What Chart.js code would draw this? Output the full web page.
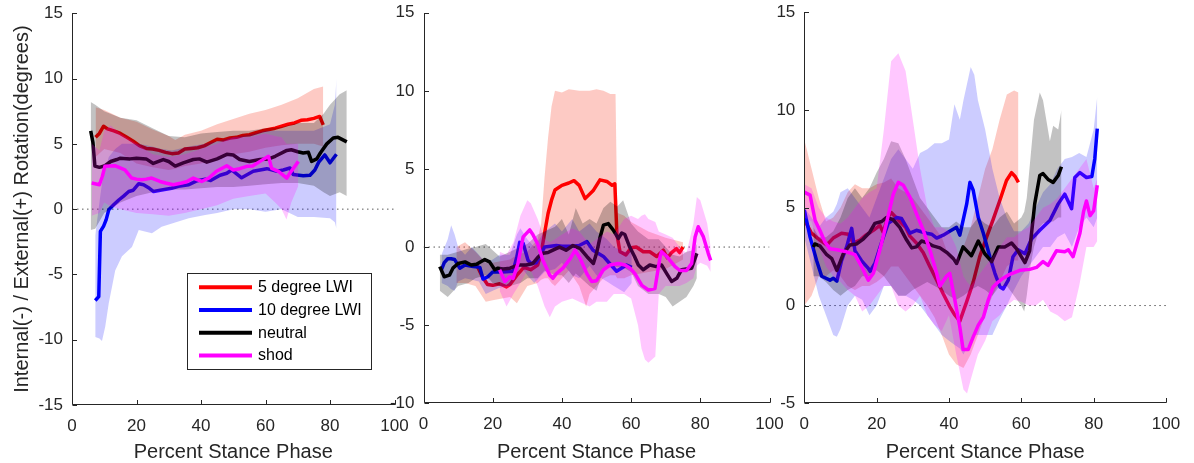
<!DOCTYPE html>
<html>
<head>
<meta charset="utf-8">
<script src="https://cdn.jsdelivr.net/npm/chart.js@4.4.1/dist/chart.umd.min.js"></script>
<style>
  html, body { margin: 0; padding: 0; background: #ffffff; }
  #wrap { position: relative; width: 1194px; height: 463px; overflow: hidden; background: #ffffff; }
  #wrap canvas { position: absolute; left: 0; top: 0; }
</style>
</head>
<body>
<div id="wrap">
  <canvas id="panel1" width="1194" height="463"></canvas>
  <canvas id="panel2" width="1194" height="463"></canvas>
  <canvas id="panel3" width="1194" height="463"></canvas>
</div>
<script>
// ---- conditions ----
const conditionNames = ['5 degree LWI', '10 degree LWI', 'neutral', 'shod'];

// ---- tick values ----
const xTicks  = [0, 20, 40, 60, 80, 100];
const y1Ticks = [-15, -10, -5, 0, 5, 10, 15];
const y2Ticks = [-10, -5, 0, 5, 10, 15];
const y3Ticks = [-5, 0, 5, 10, 15];

// ---- panel 1: mean curves [percent stance, degrees] ----
const p1RedMean = [[7.3,5.5],[8.5,5.8],[9.8,6.35],[11,6.15],[13,6.0],[15,5.8],[17,5.5],[19,5.2],[21,4.85],[23,4.65],[25,4.6],[27,4.5],[29,4.35],[31,4.25],[33,4.3],[35,4.6],[37,4.65],[39,4.7],[41,4.85],[43,5.1],[45,5.35],[47,5.3],[49,5.45],[51,5.5],[53,5.65],[55,5.7],[57,5.85],[59,6.0],[61,6.1],[63,6.2],[65,6.35],[67,6.5],[69,6.6],[71,6.8],[73,6.85],[75,6.95],[76.8,7.1],[77.9,6.45]];
const p1BlueMean = [[7.2,-7.0],[8.3,-6.7],[8.8,-1.7],[9.8,-1.3],[10.6,-0.8],[11.4,-0.05],[13,0.35],[14.5,0.7],[16,1.0],[17.6,1.35],[19,1.45],[20.7,1.95],[22.2,1.87],[24,1.6],[25.3,1.35],[27.8,1.47],[30.9,1.6],[33,1.75],[36.2,1.87],[38.5,2.15],[41.3,2.3],[43,2.2],[45.9,2.6],[48,2.75],[49.5,3.0],[52.6,2.4],[56.2,2.9],[58.3,3.0],[60.4,3.1],[63.6,2.9],[65.5,3.0],[67.6,3.15],[68.6,2.65],[71.7,2.56],[73.8,2.6],[75.3,3.0],[76.5,3.6],[78.4,4.15],[80,3.55],[82,4.2]];
const p1BlackMean = [[5.8,6.0],[6.5,5.1],[7.1,3.3],[8.5,3.2],[10,3.3],[12,3.65],[13.9,3.8],[15,3.9],[18,3.85],[20,3.9],[23,3.85],[25.2,3.5],[28.3,3.8],[30,3.65],[32,3.3],[34.5,3.55],[37.6,3.8],[39.5,3.85],[41.8,3.6],[45,3.85],[48,4.2],[50,4.15],[52,3.8],[55,3.65],[58.3,3.8],[61,3.85],[63,4.05],[66.6,4.5],[68,4.55],[70,4.4],[71.7,4.3],[73.3,4.35],[74.3,3.66],[75.9,3.85],[77,4.3],[79,5.0],[81,5.45],[82.5,5.5],[85.2,5.15]];
const p1ShodMean = [[6.1,2.0],[8.5,1.87],[9.4,2.5],[10.2,3.28],[13.3,3.33],[16.4,3.0],[18.5,2.38],[20,2.3],[21.6,2.25],[23,2.3],[24.7,2.38],[27.3,2.12],[29,2.0],[31.4,1.87],[34,2.0],[35.5,2.1],[37.6,2.38],[40.2,2.12],[42.5,2.4],[44.8,2.9],[48,3.33],[50,3.0],[52,3.1],[54.2,3.28],[56,3.3],[58.3,3.66],[60.9,4.05],[61.9,3.13],[64,2.9],[66.6,2.38],[67.6,2.77],[70.2,3.66]];

// ---- panel 1: spread bands [percent stance, lower, upper] ----
const p1RedBand = [[7.3,4.0,7.8],[10,4.6,7.6],[15,4.3,7.0],[20,3.5,6.7],[25,3.2,6.1],[30,3.0,5.6],[32,3.1,5.3],[35,3.3,5.7],[40,3.5,6.0],[45,3.9,6.5],[50,4.2,6.9],[55,4.4,7.3],[60,4.7,7.6],[65,4.9,8.0],[70,5.0,8.5],[75,5.0,9.2],[77.9,4.8,9.4]];
const p1BlueBand = [[7.2,-9.8,-2.0],[8.5,-9.9,0.5],[9.3,-10.1,2.0],[10.3,-9.0,3.0],[11.4,-7.2,4.0],[13.4,-4.7,4.6],[15.5,-3.6,5.0],[18.6,-2.9,5.0],[20.7,-1.6,5.0],[24.8,-1.85,4.8],[27.8,-1.35,4.6],[31,-1.1,4.5],[36.2,-0.7,4.8],[41.3,-0.45,5.0],[45,-0.3,5.2],[50,0.0,5.5],[55,0.0,5.7],[60,-0.2,6.0],[65,0.0,6.0],[70,-0.6,6.0],[75,-0.6,6.0],[80,-0.7,6.5],[81.5,-1.0,8.0],[82,-1.5,10.0]];
const p1BlackBand = [[5.8,-1.6,8.2],[7.2,-1.5,8.0],[10,-0.3,7.5],[15,0.5,7.0],[20,1.0,6.8],[25,1.3,6.2],[30,1.5,5.6],[35,1.5,5.5],[40,1.6,5.8],[45,1.7,5.9],[50,1.7,6.0],[55,1.8,6.0],[60,1.9,6.2],[65,2.0,6.3],[70,2.0,6.6],[75,1.8,6.6],[78,1.3,7.3],[80,1.0,8.0],[83,1.3,8.8],[85.2,1.0,9.1]];
const p1ShodBand = [[6.1,-0.5,5.0],[8.5,-0.3,4.5],[10,0.5,6.0],[12,0.2,6.4],[15,0.0,5.8],[20,-0.3,5.0],[25,-0.4,4.2],[30,-0.5,4.0],[35,-0.3,4.2],[40,0.0,4.6],[45,0.3,5.0],[50,0.8,5.5],[55,1.0,5.5],[60,1.2,5.8],[63,0.5,5.6],[65,0.0,5.5],[66.5,-0.8,5.0],[68,0.5,5.0],[70.2,1.8,5.0]];

// ---- panel 2: mean curves ----
const p2RedMean = [[14,-1.2],[15.5,-1.2],[17,-1.9],[18.5,-2.4],[20,-2.45],[22,-2.35],[24,-2.55],[25,-2.4],[27,-1.8],[29,-1.3],[31,-1.45],[33,-1.15],[34,-0.4],[35,0.9],[36,2.15],[37,3.0],[38,3.65],[40,3.95],[42,4.1],[43.5,4.25],[45,3.95],[46.7,3.1],[49,3.6],[51,4.3],[53,4.2],[54.5,3.95],[55.3,4.05],[55.9,0.8],[56.8,-0.3],[58.5,-0.5],[60,-0.05],[61.5,0.0],[63.5,-0.3],[65.4,-0.3],[67.4,-0.6],[69.3,-0.2],[70.5,-0.7],[71.7,-0.35],[73.1,-0.1],[74,-0.35],[75,0.0]];
const p2BlueMean = [[5.2,-1.45],[6,-1.0],[7,-0.75],[8,-0.75],[9,-0.8],[10.5,-1.35],[12,-1.15],[14.4,-1.25],[16.3,-1.3],[17.2,-2.05],[18.6,-1.9],[20,-1.6],[22.9,-1.6],[25.9,-1.55],[27,-0.6],[27.8,0.3],[28.8,0.25],[30.2,-0.85],[31.1,-1.05],[32.6,-1.0],[34,-0.4],[35,0.0],[38.4,0.1],[40,0.05],[43,0.05],[45,0.1],[47.2,0.35],[49,-0.2],[52,-0.6],[54,-1.1],[55.8,-1.55],[58.7,-1.15],[60.2,-1.3]];
const p2BlackMean = [[4.7,-1.25],[6,-1.9],[7.5,-1.8],[8.5,-1.35],[10,-1.05],[12,-0.95],[13.8,-1.15],[15.3,-1.1],[17.7,-0.8],[19.1,-0.95],[20.6,-1.45],[21.5,-1.35],[23,-1.4],[25,-1.35],[27.3,-1.15],[29.7,-1.15],[31.6,-1.05],[33.1,-0.65],[34.5,-0.4],[36,-0.35],[37.4,-0.2],[39.3,0.0],[41.2,-0.2],[43.2,0.1],[45.3,-0.1],[47.2,-0.6],[49.1,-1.05],[50,-0.4],[51,0.6],[52,1.4],[53.4,1.5],[54.8,1.1],[56.3,0.55],[57.3,0.9],[58.2,0.8],[59.6,0.0],[61,-0.6],[62.1,-1.15],[63.5,-1.45],[65.4,-1.15],[67.3,-1.25],[68.8,-1.15],[70.3,-1.7],[71.7,-2.2],[73.2,-2.0],[74.6,-1.45],[76,-1.4],[77.5,-1.35],[79,-0.4]];
const p2ShodMean = [[22,-1.45],[23.5,-2.2],[24.9,-1.9],[25.9,-2.0],[27.3,-1.05],[28.8,0.65],[30.7,1.1],[31.6,0.8],[33.1,0.15],[34.5,-0.85],[36.5,-1.8],[37.4,-2.0],[38.4,-1.7],[40.3,-1.35],[42.4,-0.75],[43.8,-0.2],[45.3,-0.75],[47.2,-1.7],[48.6,-2.2],[50,-2.15],[52,-1.45],[53.9,-1.15],[56.3,-1.05],[58.2,-1.15],[59.7,-1.35],[61.1,-1.7],[63.1,-2.45],[65,-2.75],[66.9,-2.65],[68.4,-0.6],[68.8,-0.3],[70.3,-0.6],[72.7,-1.25],[74.1,-1.5],[76,-1.5],[77.5,-1.05],[78.5,0.65],[79.4,1.3],[80.9,0.65],[82.3,-0.4],[83,-0.85]];

// ---- panel 2: spread bands ----
const p2RedBand = [[9.5,-2.3,0.0],[12,-2.3,0.3],[15,-2.5,-0.3],[18,-3.5,-1.0],[20,-3.4,-1.0],[25,-3.2,-0.8],[27,-3.6,-0.5],[30,-2.5,-0.3],[33,-2.3,0.5],[34,-2.1,1.5],[35,-2.0,4.5],[36,-2.0,7.0],[37,-2.3,9.0],[38,-2.5,10.0],[40,-2.0,9.9],[42,-1.5,10.1],[45,-2.5,10.0],[47,-3.8,10.0],[48,-3.0,10.0],[50,-2.5,10.1],[52,-2.0,10.0],[54,-1.8,9.8],[55.5,-1.8,9.8],[56,-2.0,2.2],[58,-2.0,2.0],[60,-1.8,1.6],[65,-1.6,1.0],[70,-1.4,0.6],[75,-0.8,0.3]];
const p2BlueBand = [[5.2,-2.3,-0.5],[7,-2.5,0.5],[8,-2.7,1.4],[9,-2.8,0.8],[10,-2.2,0.0],[12,-2.0,-0.5],[14,-2.1,0.0],[16,-2.2,-0.5],[18,-3.0,-1.0],[20,-2.8,-0.8],[22,-2.6,-0.5],[25,-2.5,-0.5],[27,-1.8,0.8],[28,-1.2,1.2],[30,-1.8,0.5],[32,-2.3,0.0],[35,-1.6,1.0],[38,-1.4,1.5],[40,-1.0,1.0],[43,-1.8,1.8],[45,-2.0,1.0],[48,-1.2,1.5],[50,-1.8,1.0],[53,-2.2,0.5],[55,-2.5,0.0],[58,-2.9,-0.3],[60.2,-2.3,-0.2]];
const p2BlackBand = [[4.7,-2.8,-0.5],[7,-3.2,-0.5],[10,-2.5,-0.3],[13,-2.3,-0.1],[15,-2.0,0.0],[18,-1.8,0.2],[20,-2.3,-0.2],[22,-2.5,-0.6],[25,-2.5,-0.3],[28,-2.3,0.0],[30,-2.0,0.2],[33,-2.0,0.8],[35,-1.5,1.0],[38,-1.8,1.3],[40,-1.8,1.8],[42,-2.3,0.8],[44,-1.7,2.5],[46,-2.1,1.5],[48,-2.5,1.8],[50,-2.8,1.5],[52,-1.5,2.5],[54,-1.2,2.9],[56,-1.3,2.6],[57.7,-1.3,3.0],[60,-1.6,1.5],[62,-2.5,1.0],[65,-3.0,0.5],[68,-3.0,0.5],[70,-3.2,0.0],[72,-3.8,-0.5],[74,-3.5,-0.6],[76,-3.2,-0.3],[78,-2.5,-0.2],[79,-2.0,0.2]];
const p2ShodBand = [[22,-2.8,-0.3],[24,-3.8,-0.5],[26,-3.0,0.3],[28,-2.3,2.0],[30,-1.5,3.0],[31,-1.5,2.8],[33,-2.5,1.8],[35,-3.8,0.5],[36.5,-4.5,0.3],[38,-3.8,0.5],[40,-3.5,0.8],[43,-3.3,1.2],[45,-3.5,1.0],[48,-3.8,0.2],[50,-3.5,0.5],[53,-3.5,1.0],[55,-3.0,0.8],[58,-3.0,1.8],[60,-3.3,2.0],[62,-5.0,1.8],[63,-6.5,2.0],[64,-7.2,2.1],[65,-7.4,1.8],[67,-7.0,1.6],[68,-3.0,1.0],[70,-2.5,0.8],[72,-2.5,0.6],[74,-2.5,0.0],[76,-2.3,-0.4],[78,-2.0,1.5],[79,-1.2,3.2],[80,-1.0,3.0],[82,-1.2,1.5],[83,-1.6,0.0]];

// ---- panel 3: mean curves ----
const p3RedMean = [[0,4.4],[2,3.7],[4.3,3.35],[6.2,3.1],[8,3.45],[10.3,3.7],[12.2,3.65],[13.5,3.2],[15.4,3.35],[17,3.6],[19.1,3.85],[20.9,4.1],[21.8,3.75],[23.2,4.55],[24.1,4.75],[26.4,4.3],[28,4.0],[29.2,3.55],[31,3.2],[32.9,2.7],[34.7,2.0],[36.6,1.3],[38.4,0.6],[40.2,-0.05],[41.5,-0.45],[43,-0.8],[44.9,0.2],[46.7,1.2],[48.5,2.5],[50.4,3.5],[52.2,4.4],[54.1,5.4],[55.9,6.4],[57.3,6.8],[58.3,6.6],[59.2,6.3]];
const p3BlueMean = [[0,4.9],[1.6,3.5],[3.4,2.3],[4.8,1.5],[7.1,1.3],[8,1.4],[9,1.25],[10.3,2.3],[11.7,3.0],[13.1,3.95],[14,2.8],[15.8,2.3],[17.7,1.9],[18.2,1.75],[19.5,2.15],[21.4,3.25],[23.2,4.2],[25.5,4.5],[26.9,4.45],[29.2,3.7],[31,3.85],[33.8,3.7],[35.2,3.65],[36.6,3.45],[38.4,3.6],[40.2,3.8],[42.1,4.0],[43,3.6],[44.9,5.2],[45.8,6.3],[46.7,5.9],[48.1,4.5],[49.5,3.7],[51.3,2.5],[52.7,1.65],[54.1,0.95],[55,0.85],[56.4,1.3],[57.7,2.5],[59.1,2.85],[61,2.65],[62.8,3.4],[65.1,3.85],[67.9,4.35],[70.2,5.2],[72,5.7],[73.9,4.95],[74.8,6.55],[76.2,6.8],[78,6.55],[79.5,6.6],[80.3,7.5],[81,9.05]];
const p3BlackMean = [[2.5,3.0],[2.9,3.15],[4.3,3.05],[6.2,2.6],[7.6,2.4],[9,1.8],[10.8,2.65],[12.6,3.1],[14.4,3.15],[16.3,3.4],[18.1,3.75],[19.5,4.2],[21.4,4.3],[22.7,4.5],[24.5,4.4],[26.4,4.0],[28.3,3.35],[29.7,2.95],[31,3.0],[32.4,3.3],[34.2,3.2],[35.6,3.05],[37.5,2.95],[39.5,2.7],[41.2,2.4],[42.1,2.15],[43.9,3.0],[46.2,2.55],[48.1,3.3],[49.9,2.65],[51.8,2.25],[53.6,3.0],[55.4,3.0],[57.3,3.2],[58.7,2.9],[61,2.2],[62.3,2.8],[63.7,5.2],[65.1,6.65],[66,6.75],[67.4,6.45],[68.8,6.3],[70.2,6.65],[71.1,7.1]];
const p3ShodMean = [[0,5.8],[1.6,5.65],[3,4.35],[4.3,3.85],[5.7,3.25],[7.1,2.9],[9,2.85],[11.7,2.75],[14,2.6],[15.8,2.0],[17.7,1.3],[19.1,1.65],[20.9,2.85],[22.7,4.2],[24.6,5.7],[26,6.3],[27.4,6.15],[29.2,5.55],[31,4.7],[32.9,3.85],[34.7,2.85],[36.6,1.65],[37.5,1.0],[39.3,1.5],[40.2,1.65],[41.6,0.3],[43,-1.1],[43.9,-2.25],[45.3,-2.25],[46.7,-1.6],[48.1,-1.0],[49.5,-0.6],[50.8,0.25],[52.2,0.95],[53.6,1.2],[55,1.4],[56.8,1.6],[59.6,1.8],[62.3,1.85],[64.2,1.95],[66,2.25],[67.4,2.05],[69.7,2.8],[72,2.75],[73,2.85],[74.3,2.5],[76.2,3.7],[77.2,4.8],[78,5.35],[79,4.6],[80,4.85],[81,6.15]];

// ---- panel 3: spread bands ----
const p3RedBand = [[0,0.0,8.5],[2,0.5,7.0],[4,1.5,5.5],[6,1.5,4.3],[8,1.8,4.5],[10,1.5,5.0],[12,1.0,5.8],[14,0.8,6.2],[16,1.0,6.0],[18,1.0,6.0],[20,1.2,6.2],[22,1.5,6.3],[24,2.0,6.5],[26,2.0,6.0],[28,1.5,5.8],[30,1.0,5.5],[32,0.5,5.0],[34,0.0,4.5],[36,-0.6,4.0],[38,-1.5,3.5],[40,-2.5,2.5],[42,-3.0,2.0],[44,-3.2,3.0],[46,-2.5,4.0],[48,-1.5,5.5],[50,-0.5,7.0],[52,0.5,8.0],[54,1.2,9.5],[56,2.0,10.8],[58,2.3,11.0],[59.2,2.3,10.9]];
const p3BlueBand = [[0,3.5,5.0],[2,2.0,4.5],[4,0.5,4.0],[6,-0.5,4.5],[8,-1.5,4.8],[9,-1.6,5.2],[10,-1.2,5.8],[12,0.0,6.0],[14,0.5,5.5],[16,0.3,5.0],[18,-0.5,4.5],[20,0.0,5.5],[22,1.0,6.5],[24,1.0,7.5],[26,0.5,8.0],[28,0.5,7.5],[30,0.3,7.0],[32,0.0,7.8],[34,-0.5,8.0],[36,-1.0,8.3],[38,-1.5,8.3],[40,-1.8,8.5],[41.5,-2.0,10.3],[43,-2.2,9.5],[44,-2.5,10.5],[46,-1.8,12.2],[47,-1.5,11.8],[48,-1.5,10.5],[50,-1.5,9.0],[52,-1.5,7.0],[54,-0.7,5.5],[56,0.0,4.5],[58,0.8,3.8],[60,1.5,3.8],[62,2.0,4.2],[64,2.5,5.0],[66,3.0,5.8],[68,3.0,6.2],[70,3.5,7.0],[72,3.7,7.5],[74,3.0,7.6],[76,4.0,7.8],[78,4.5,7.6],[80,4.0,9.0],[81,4.5,10.7]];
const p3BlackBand = [[2.5,1.5,4.0],[4,1.5,3.5],[6,1.2,3.5],[8,0.8,3.8],[10,0.5,4.5],[12,0.8,5.5],[14,1.0,6.0],[16,1.5,5.5],[18,1.5,6.0],[20,1.8,6.8],[22,1.5,7.5],[24,1.0,8.4],[26,0.5,8.3],[28,0.5,7.5],[30,0.8,6.5],[32,1.0,5.5],[34,1.2,5.0],[36,1.0,4.5],[38,0.8,4.0],[40,0.5,4.0],[42,0.3,4.3],[44,0.5,4.0],[46,0.8,4.0],[48,1.0,4.5],[50,0.8,4.2],[52,0.5,4.0],[54,1.0,4.5],[56,1.0,4.8],[58,0.5,4.2],[60,0.0,4.5],[60.8,-0.3,4.8],[61.5,0.5,5.5],[62.5,2.0,7.5],[63.5,3.0,9.5],[65.1,4.0,10.9],[66,4.2,10.5],[67.9,4.3,8.4],[68.8,4.3,9.2],[70.2,4.5,9.0],[71.1,4.5,10.0]];
const p3ShodBand = [[0,4.5,6.2],[2,4.3,6.0],[4,3.0,5.0],[6,2.0,4.5],[8,1.5,4.3],[10,1.2,4.2],[12,0.8,4.5],[14,0.5,5.0],[16,-0.3,5.5],[18,0.0,5.8],[20,0.5,6.0],[22,1.0,9.0],[24,1.0,12.5],[26,0.0,12.9],[28,-0.3,12.0],[30,0.0,9.5],[32,0.5,7.0],[34,-0.5,5.0],[36,-1.0,4.0],[38,-1.3,4.0],[40,-0.5,3.8],[42,-2.5,3.0],[44,-4.3,1.5],[45,-4.5,1.2],[46,-3.8,1.0],[48,-2.5,1.5],[50,-1.8,2.0],[52,-0.8,2.5],[54,-0.5,3.0],[56,0.0,3.5],[58,0.3,3.5],[60,0.2,3.8],[62,0.0,4.0],[64,0.0,4.5],[66,0.3,5.0],[68,-0.3,5.2],[70,-0.5,5.5],[72,-0.8,6.0],[74,-0.6,6.5],[76,1.0,7.0],[78,3.0,7.5],[80,3.0,6.0],[81,3.3,6.5]];

// ---- styling ----
const W = 1194, H = 463;
const FONT = '"Liberation Sans", Arial, Helvetica, sans-serif';
const AXIS_COLOR = '#262626';
const lineColors = ['#ff0000', '#0000ff', '#000000', '#ff00ff'];
const bandColors = ['rgba(250,80,60,0.30)', 'rgba(0,0,255,0.20)', 'rgba(0,0,0,0.24)', 'rgba(255,0,255,0.22)'];

Chart.defaults.font.family = FONT;
Chart.defaults.color = AXIS_COLOR;

const toXY = (rows, col) => rows.map(r => ({ x: r[0], y: r[col] }));

// Axis lines on the left and bottom with short inward tick marks.
const inwardAxes = {
  id: 'inwardAxes',
  afterDraw(chart) {
    const { ctx, chartArea: a, scales: { x, y } } = chart;
    const len = 4.5;
    ctx.save();
    ctx.strokeStyle = AXIS_COLOR;
    ctx.lineWidth = 1;
    const bx = Math.round(a.left) + 0.5;
    const by = Math.round(a.bottom) - 0.5;
    ctx.beginPath();
    ctx.moveTo(bx, Math.round(a.top));
    ctx.lineTo(bx, by);
    ctx.lineTo(Math.round(a.right) + 0.5, by);
    for (const t of x.ticks) {
      const px = Math.round(x.getPixelForValue(t.value)) + 0.5;
      ctx.moveTo(px, by);
      ctx.lineTo(px, by - len);
    }
    for (const t of y.ticks) {
      const py = Math.round(y.getPixelForValue(t.value)) + 0.5;
      ctx.moveTo(bx, py);
      ctx.lineTo(bx + len, py);
    }
    ctx.stroke();
    ctx.restore();
  }
};

// Boxed legend listing the four conditions.
const legendBox = {
  id: 'legendBox',
  afterDraw(chart, args, o) {
    if (!o || !o.show) return;
    const ctx = chart.ctx;
    const items = chart.data.datasets.filter(d => d.label);
    ctx.save();
    ctx.fillStyle = '#ffffff';
    ctx.fillRect(o.x, o.y, o.w, o.h);
    ctx.strokeStyle = AXIS_COLOR;
    ctx.lineWidth = 1;
    ctx.strokeRect(o.x + 0.5, o.y + 0.5, o.w, o.h);
    ctx.font = '16px ' + FONT;
    ctx.textBaseline = 'middle';
    items.forEach((d, i) => {
      const ry = o.firstRow + i * o.rowGap;
      ctx.strokeStyle = d.borderColor;
      ctx.lineWidth = 4;
      ctx.beginPath();
      ctx.moveTo(o.lineX0, ry);
      ctx.lineTo(o.lineX1, ry);
      ctx.stroke();
      ctx.fillStyle = '#000000';
      ctx.fillText(d.label, o.textX, ry + 0.5);
    });
    ctx.restore();
  }
};

// Remove the label-overflow padding the scales would otherwise reserve.
function noScalePadding(sc) {
  sc.paddingTop = 0;
  sc.paddingBottom = 0;
  sc.paddingLeft = 0;
  sc.paddingRight = 0;
}

function buildPanel(canvasId, p) {
  const datasets = [];
  // dotted zero reference across the full x range
  datasets.push({
    data: [{ x: xTicks[0], y: 0 }, { x: xTicks[xTicks.length - 1], y: 0 }],
    borderColor: '#5a5a5a', borderWidth: 1, borderDash: [1.5, 3.5],
    pointRadius: 0, fill: false, order: 100
  });
  p.series.forEach((s, k) => {
    datasets.push({
      data: toXY(s.band, 2), borderColor: 'rgba(0,0,0,0)', borderWidth: 0,
      pointRadius: 0, fill: '+1', backgroundColor: bandColors[k], order: 80 - 10 * k
    });
    datasets.push({
      data: toXY(s.band, 1), borderColor: 'rgba(0,0,0,0)', borderWidth: 0,
      pointRadius: 0, fill: false, order: 79 - 10 * k
    });
    datasets.push({
      label: conditionNames[k], data: toXY(s.mean, 1), borderColor: lineColors[k],
      borderWidth: 3.5, borderJoinStyle: 'round', pointRadius: 0, fill: false, order: 75 - 10 * k
    });
  });

  return new Chart(document.getElementById(canvasId), {
    type: 'line',
    data: { datasets },
    plugins: [inwardAxes, legendBox],
    options: {
      responsive: false,
      animation: false,
      devicePixelRatio: 1,
      layout: { padding: { left: p.area.left - p.yWidth, top: p.area.top, right: W - p.area.right, bottom: 0 } },
      plugins: {
        legend: { display: false },
        tooltip: { enabled: false },
        filler: { drawTime: 'beforeDatasetDraw', propagate: false },
        legendBox: p.legend || { show: false }
      },
      scales: {
        x: {
          type: 'linear',
          min: xTicks[0], max: xTicks[xTicks.length - 1],
          afterBuildTicks: sc => { sc.ticks = xTicks.map(v => ({ value: v })); },
          afterFit: sc => { sc.height = H - p.area.bottom; noScalePadding(sc); },
          grid: { display: false, drawTicks: false },
          border: { display: false },
          ticks: { padding: 11, font: { size: 17 }, color: AXIS_COLOR, maxRotation: 0, autoSkip: false },
          title: { display: true, text: 'Percent Stance Phase', font: { size: 20 }, color: AXIS_COLOR, padding: { top: 0, bottom: -1.5 } }
        },
        y: {
          type: 'linear',
          min: p.yTicks[0], max: p.yTicks[p.yTicks.length - 1],
          afterBuildTicks: sc => { sc.ticks = p.yTicks.map(v => ({ value: v })); },
          afterFit: sc => { sc.width = p.yWidth; noScalePadding(sc); },
          grid: { display: false, drawTicks: false },
          border: { display: false },
          ticks: { padding: 9, font: { size: 17 }, color: AXIS_COLOR, autoSkip: false },
          title: {
            display: !!p.yTitle, text: p.yTitle || '', font: { size: 20 }, color: AXIS_COLOR,
            padding: { top: 10, bottom: 0 }
          }
        }
      }
    }
  });
}

buildPanel('panel1', {
  area: { left: 72, right: 394.5, top: 13.3, bottom: 405 },
  yWidth: 72,
  yTicks: y1Ticks,
  yTitle: 'Internal(-) / External(+) Rotation(degrees)',
  series: [
    { mean: p1RedMean, band: p1RedBand },
    { mean: p1BlueMean, band: p1BlueBand },
    { mean: p1BlackMean, band: p1BlackBand },
    { mean: p1ShodMean, band: p1ShodBand }
  ],
  legend: { show: true, x: 187, y: 273, w: 184, h: 96, lineX0: 199, lineX1: 252, textX: 258, firstRow: 287.3, rowGap: 22.7 }
});

buildPanel('panel2', {
  area: { left: 423.5, right: 769.5, top: 12.7, bottom: 403.3 },
  yWidth: 40,
  yTicks: y2Ticks,
  series: [
    { mean: p2RedMean, band: p2RedBand },
    { mean: p2BlueMean, band: p2BlueBand },
    { mean: p2BlackMean, band: p2BlackBand },
    { mean: p2ShodMean, band: p2ShodBand }
  ]
});

buildPanel('panel3', {
  area: { left: 804.3, right: 1166, top: 12.3, bottom: 403.3 },
  yWidth: 40,
  yTicks: y3Ticks,
  series: [
    { mean: p3RedMean, band: p3RedBand },
    { mean: p3BlueMean, band: p3BlueBand },
    { mean: p3BlackMean, band: p3BlackBand },
    { mean: p3ShodMean, band: p3ShodBand }
  ]
});
</script>
</body>
</html>
